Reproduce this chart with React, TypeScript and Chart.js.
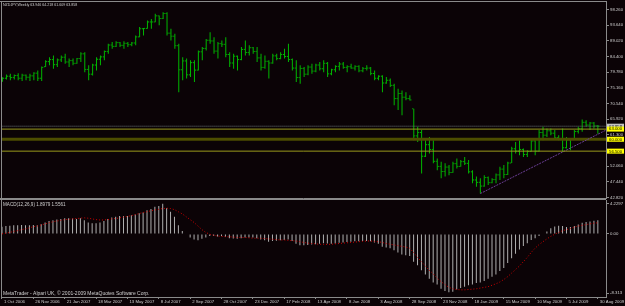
import React, { useEffect, useRef } from 'react';
import { Chart, registerables } from 'chart.js';
Chart.register(...registerables);

const BG = '#0b0306';
const AXIS = '#8a8a8a';
const TEXT = '#cfcfcf';
const BAR_GREEN = '#00b800';
const FONT = '"Liberation Sans", Arial, sans-serif';

const symbolTitle = 'NZDJPY,Weekly 63.946 64.218 61.609 63.858';
const macdTitle = 'MACD(12,26,9) 1.8979 1.5561';
const footerText = 'MetaTrader - Alpari UK, \u00a9 2001-2009 MetaQuotes Software Corp.';

const dateLabels = ['1 Oct 2006', '26 Nov 2006', '21 Jan 2007', '18 Mar 2007', '13 May 2007', '8 Jul 2007', '2 Sep 2007', '28 Oct 2007', '23 Dec 2007', '17 Feb 2008', '13 Apr 2008', '8 Jun 2008', '3 Aug 2008', '28 Sep 2008', '23 Nov 2008', '18 Jan 2009', '15 Mar 2009', '10 May 2009', '5 Jul 2009', '30 Aug 2009'];
const DATE_STEP = 8;

const opens = [
  77.5, 78.0, 78.6, 78.2, 78.8, 78.0, 78.9, 78.3, 78.7, 79.5,
  78.0, 81.4, 82.9, 83.5, 82.0, 83.4, 84.2, 82.8, 83.2, 82.4,
  83.8, 85.2, 80.6, 79.2, 81.9, 83.6, 84.3, 85.9, 87.8, 87.4,
  88.5, 87.7, 88.3, 87.9, 88.4, 90.2, 92.6, 92.7, 94.6, 94.6,
  96.4, 95.6, 97.1, 91.3, 90.4, 87.6, 80.5, 83.1, 79.0, 82.6,
  80.4, 85.8, 86.8, 89.2, 89.0, 86.0, 88.2, 88.0, 85.0, 82.5,
  84.5, 83.5, 86.5, 85.6, 87.0, 85.9, 84.0, 81.2, 83.0, 82.5,
  84.6, 83.8, 85.0, 84.4, 83.5, 81.0, 78.2, 80.9, 79.2, 81.3,
  80.1, 81.9, 80.8, 82.4, 79.3, 80.5, 81.5, 82.2, 81.2, 81.4,
  81.0, 81.5, 80.2, 80.9, 81.0, 79.4, 78.0, 78.6, 76.6, 77.4,
  75.9, 72.0, 73.5, 72.4, 72.0, 69.0, 61.0, 62.0, 55.0, 58.4,
  57.0, 53.5, 52.0, 50.5, 51.8, 50.2, 52.8, 52.0, 53.4, 52.9,
  50.4, 48.0, 47.3, 46.2, 48.7, 47.2, 48.1, 49.5, 51.2, 49.6,
  53.0, 57.2, 56.5, 57.0, 55.5, 56.4, 59.5, 56.5, 62.0, 61.2,
  62.5, 61.8, 60.5, 60.2, 57.5, 59.8, 59.9, 62.3, 63.1, 65.0,
  64.2, 64.8, 63.946,
];
const highs = [
  78.3, 79.1, 79.3, 79.1, 79.5, 79.3, 79.1, 79.3, 79.8, 80.3,
  81.5, 83.3, 84.2, 84.7, 83.8, 84.7, 85.2, 83.8, 83.8, 84.0,
  85.7, 85.7, 81.8, 82.3, 84.2, 84.7, 86.2, 88.2, 88.7, 88.9,
  88.7, 88.9, 88.7, 88.7, 90.6, 93.1, 92.8, 95.0, 95.5, 97.0,
  96.5, 97.5, 97.5, 92.6, 91.1, 88.2, 84.2, 83.8, 83.3, 83.3,
  86.2, 87.2, 89.6, 91.6, 90.1, 88.7, 89.1, 90.1, 85.7, 85.2,
  84.7, 87.2, 89.1, 87.7, 87.2, 87.2, 85.2, 84.7, 83.3, 85.2,
  85.2, 85.7, 86.7, 88.2, 83.8, 83.3, 81.8, 81.3, 81.8, 82.3,
  82.3, 82.8, 83.3, 82.8, 80.8, 81.8, 82.8, 82.8, 81.8, 82.3,
  81.8, 81.8, 81.3, 81.8, 81.3, 80.3, 78.9, 78.9, 78.4, 77.9,
  76.4, 74.9, 74.4, 73.9, 73.0, 69.0, 63.7, 62.7, 59.7, 60.7,
  59.7, 54.3, 53.4, 52.9, 52.4, 53.4, 54.3, 53.9, 54.8, 53.9,
  50.9, 49.0, 48.5, 49.4, 49.0, 48.5, 49.9, 51.9, 52.4, 53.4,
  57.8, 59.2, 59.7, 57.3, 56.8, 60.2, 59.7, 62.7, 63.7, 63.2,
  63.2, 62.7, 61.2, 63.2, 60.7, 60.2, 62.7, 63.7, 65.8, 65.6,
  65.1, 65.1, 64.218,
];
const lows = [
  77.0, 77.6, 77.4, 77.6, 77.4, 77.2, 77.4, 77.2, 77.4, 77.2,
  77.2, 81.3, 81.8, 80.8, 81.3, 82.8, 82.3, 81.3, 81.8, 82.3,
  82.8, 79.8, 77.4, 78.8, 80.3, 81.8, 83.3, 85.2, 86.7, 87.2,
  87.2, 86.7, 87.2, 87.4, 87.7, 90.1, 90.6, 92.6, 92.6, 94.5,
  93.6, 95.5, 90.6, 89.1, 86.7, 73.9, 77.4, 77.9, 78.4, 76.9,
  80.3, 83.3, 86.2, 88.2, 85.2, 83.8, 87.2, 84.2, 81.3, 80.8,
  80.3, 83.3, 84.7, 84.7, 85.2, 82.8, 80.3, 80.8, 77.9, 82.3,
  83.3, 83.6, 83.8, 82.8, 80.3, 76.9, 76.4, 78.4, 78.9, 79.3,
  79.8, 80.3, 79.8, 78.4, 78.9, 79.8, 80.3, 80.8, 79.8, 80.8,
  80.3, 79.8, 79.8, 80.3, 78.9, 77.4, 77.4, 73.9, 76.4, 75.4,
  70.0, 68.6, 67.1, 71.5, 71.4, 59.7, 59.2, 49.9, 54.8, 55.8,
  52.9, 50.9, 48.5, 49.0, 49.4, 50.1, 51.4, 51.9, 52.4, 49.9,
  47.0, 46.0, 44.0, 46.0, 46.5, 47.0, 47.0, 48.0, 48.5, 49.5,
  53.0, 55.8, 55.3, 54.8, 54.8, 56.3, 55.3, 56.4, 59.7, 60.7,
  61.2, 60.2, 59.7, 56.3, 57.3, 56.8, 59.8, 61.7, 62.2, 63.7,
  62.7, 63.2, 61.609,
];
const closes = [
  78.0, 78.6, 78.2, 78.8, 78.0, 78.9, 78.3, 78.7, 79.5, 78.0,
  81.2, 82.9, 83.5, 82.0, 83.4, 84.2, 82.8, 83.2, 82.4, 83.8,
  85.2, 80.6, 79.2, 81.9, 83.6, 84.3, 85.9, 87.8, 87.4, 88.5,
  87.7, 88.3, 87.9, 88.4, 90.2, 92.6, 92.7, 94.6, 94.6, 96.4,
  95.6, 97.1, 91.3, 90.4, 87.6, 80.5, 83.1, 79.0, 82.6, 80.4,
  85.8, 86.8, 89.2, 89.0, 86.0, 88.2, 88.0, 85.0, 82.5, 84.5,
  83.5, 86.5, 85.6, 87.0, 85.9, 84.0, 81.2, 83.0, 82.5, 84.6,
  83.8, 85.0, 84.4, 83.5, 81.0, 78.2, 80.9, 79.2, 81.3, 80.1,
  81.9, 80.8, 82.4, 79.3, 80.5, 81.5, 82.2, 81.2, 81.4, 81.0,
  81.5, 80.2, 80.9, 81.0, 79.4, 78.0, 78.6, 76.6, 77.4, 75.9,
  72.0, 73.5, 72.4, 72.0, 71.6, 61.0, 62.0, 55.0, 58.4, 57.0,
  53.5, 52.0, 50.5, 51.8, 50.2, 52.8, 52.0, 53.4, 52.9, 50.4,
  48.0, 47.3, 46.2, 48.7, 47.2, 48.1, 49.5, 51.2, 49.6, 53.0,
  57.2, 56.5, 57.0, 55.5, 56.4, 59.5, 56.5, 62.0, 61.2, 62.5,
  61.8, 60.5, 60.2, 57.5, 59.8, 59.9, 62.3, 63.1, 65.0, 64.2,
  64.8, 63.946, 63.858,
];

const macdHist = [
  1.0, 1.1, 1.15, 1.2, 1.2, 1.25, 1.2, 1.2, 1.25, 1.2, 1.35,
  1.6, 1.8, 1.9, 2.0, 2.1, 2.2, 2.2, 2.15, 2.1, 2.2,
  1.9, 1.6, 1.5, 1.5, 1.6, 1.8, 2.1, 2.3, 2.4, 2.5,
  2.5, 2.5, 2.6, 2.7, 2.9, 3.0, 3.3, 3.5, 3.8, 3.9,
  4.23, 3.6, 3.1, 2.4, 1.2, 0.4, 0.05, -0.5, -0.8, -0.9,
  -0.7, -0.5, -0.3, -0.3, -0.35, -0.3, -0.4, -0.6, -0.65, -0.7,
  -0.6, -0.5, -0.5, -0.5, -0.6, -0.8, -0.9, -1.1, -1.0, -0.95,
  -0.9, -0.85, -0.8, -1.0, -1.4, -1.6, -1.6, -1.55, -1.5, -1.45,
  -1.4, -1.3, -1.35, -1.4, -1.35, -1.25, -1.2, -1.15, -1.1, -1.05,
  -1.05, -1.0, -1.0, -1.05, -1.2, -1.4, -1.8, -1.9, -2.0, -2.3,
  -2.6, -2.9, -3.0, -3.1, -3.9, -4.4, -5.1, -5.7, -6.3, -6.8,
  -7.1, -7.7, -8.0, -8.2, -8.1, -7.8, -7.6, -7.4, -7.2, -7.1,
  -6.9, -6.8, -6.6, -6.3, -6.0, -5.7, -5.2, -4.8, -4.1, -3.4,
  -2.8, -2.2, -1.7, -1.3, -0.85, -0.6, -0.3, -0.1, 0.35, 0.8,
  1.05, 1.15, 1.1, 0.95, 0.95, 1.1, 1.3, 1.55, 1.65, 1.75,
  1.85, 1.8979,
];
const macdSignal = [
  0.0, 0.1, 0.2, 0.35, 0.45, 0.6, 0.7, 0.85, 1.0, 1.1, 1.25,
  1.4, 1.55, 1.7, 1.8, 1.9, 2.0, 2.05, 2.1, 2.15, 2.2,
  2.25, 2.2, 2.1, 2.0, 1.95, 1.95, 2.0, 2.1, 2.15, 2.25,
  2.35, 2.45, 2.55, 2.7, 2.85, 3.0, 3.1, 3.25, 3.35, 3.45,
  3.55, 3.6, 3.55, 3.4, 3.1, 2.8, 2.4, 2.0, 1.6, 1.1,
  0.6, 0.2, -0.05, -0.2, -0.3, -0.35, -0.4, -0.4, -0.45, -0.5,
  -0.5, -0.5, -0.55, -0.6, -0.6, -0.62, -0.65, -0.7, -0.75, -0.8,
  -0.85, -0.85, -0.9, -0.95, -1.0, -1.1, -1.2, -1.3, -1.35, -1.4,
  -1.45, -1.48, -1.48, -1.45, -1.4, -1.35, -1.3, -1.25, -1.2, -1.15,
  -1.1, -1.05, -1.0, -1.0, -1.05, -1.1, -1.2, -1.35, -1.45, -1.55,
  -1.65, -1.75, -1.85, -2.0, -2.6, -3.3, -3.9, -4.5, -5.1, -5.6,
  -6.2, -6.7, -7.1, -7.5, -7.7, -7.8, -7.85, -7.85, -7.8, -7.75,
  -7.7, -7.6, -7.5, -7.4, -7.2, -7.0, -6.75, -6.4, -6.0, -5.5,
  -5.0, -4.5, -3.9, -3.3, -2.6, -2.0, -1.5, -1.1, -0.7, -0.35,
  -0.05, 0.2, 0.45, 0.6, 0.75, 0.95, 1.1, 1.2, 1.3, 1.4,
  1.5, 1.5561,
];

const priceTicks = [98.26, 93.64, 89.02, 84.4, 79.78, 75.16, 70.54, 65.92, 61.3, 56.68, 52.06, 47.44, 42.82];
const macdTicks = [4.2297, 0, -8.313];
const macdTickLabels = ['4.2297', '0.00', '-8.313'];

const currentPrice = 63.858;
const hLevels = [63.0, 60.0, 56.5];
const hLevelLabels = ['63.000', '60.000', '56.500'];
const trendStart = { x: 122, y: 44.0 };
const trendEnd = { x: 154.08, y: 62.7 };

const X_MIN = -0.25;
const X_MAX = 154.08;
const PRICE_MIN = 42.68;
const PRICE_MAX = 100.62;
const MACD_MIN = -8.85;
const MACD_MAX = 4.75;
const TICK_OFF = 0.26;

const zeroPad = (s: any) => {
  s.paddingTop = 0; s.paddingBottom = 0; s.paddingLeft = 0; s.paddingRight = 0;
};

const rightAxis = (min: number, max: number, ticks: number[], labelFor: (v: number, i: number) => string) => ({
  type: 'linear',
  position: 'right',
  min,
  max,
  afterBuildTicks: (s: any) => { s.ticks = ticks.map((v) => ({ value: v })); },
  afterFit: (s: any) => { s.width = 19; zeroPad(s); },
  ticks: {
    autoSkip: false,
    padding: 1,
    color: TEXT,
    font: { size: 4.3, family: FONT },
    callback: (v: any, i: number) => labelFor(v, i),
  },
  grid: { drawOnChartArea: false, drawTicks: true, tickLength: 3, color: AXIS, offset: false },
  border: { display: true, color: AXIS, width: 1 },
});

const mainDecor = {
  id: 'mainDecor',
  beforeDraw(chart: any) {
    const { ctx, width, height } = chart;
    ctx.save();
    ctx.fillStyle = BG;
    ctx.fillRect(0, 0, width, height);
    ctx.restore();
  },
  afterDraw(chart: any) {
    const { ctx, chartArea: a, scales } = chart;
    ctx.save();
    ctx.strokeStyle = AXIS;
    ctx.lineWidth = 1;
    ctx.beginPath();
    ctx.moveTo(0, 1.5); ctx.lineTo(a.right, 1.5);
    ctx.moveTo(1.5, 1); ctx.lineTo(1.5, a.bottom);
    ctx.moveTo(0, a.bottom + 0.5); ctx.lineTo(a.right + 1, a.bottom + 0.5);
    ctx.stroke();

    ctx.fillStyle = TEXT;
    ctx.font = `3.6px ${FONT}`;
    ctx.textBaseline = 'top';
    ctx.textAlign = 'left';
    ctx.fillText(symbolTitle, 3, 3);

    const y = scales.y;
    const drawBox = (v: number, label: string, fill: string) => {
      const py = y.getPixelForValue(v);
      ctx.fillStyle = fill;
      ctx.fillRect(a.right + 1, py - 2.5, 17, 5);
      ctx.fillStyle = '#000000';
      ctx.font = `4.3px ${FONT}`;
      ctx.textBaseline = 'middle';
      ctx.fillText(label, a.right + 3, py + 0.2);
    };
    drawBox(currentPrice, currentPrice.toFixed(3), '#c4c4c4');
    hLevels.forEach((v, k) => drawBox(v, hLevelLabels[k], '#ffff00'));
    ctx.restore();
  },
};

const macdDecor = {
  id: 'macdDecor',
  beforeDraw(chart: any) {
    const { ctx, width, height } = chart;
    ctx.save();
    ctx.fillStyle = BG;
    ctx.fillRect(0, 0, width, height);
    ctx.restore();
  },
  afterDraw(chart: any) {
    const { ctx, chartArea: a } = chart;
    ctx.save();
    ctx.strokeStyle = AXIS;
    ctx.lineWidth = 1;
    ctx.beginPath();
    ctx.moveTo(0, 0.5); ctx.lineTo(a.right, 0.5);
    ctx.moveTo(1.5, 0); ctx.lineTo(1.5, a.bottom);
    ctx.stroke();
    ctx.fillStyle = TEXT;
    ctx.textBaseline = 'top';
    ctx.textAlign = 'left';
    ctx.font = `4.6px ${FONT}`;
    ctx.fillText(macdTitle, 3, 3.8);
    ctx.font = `5px ${FONT}`;
    ctx.fillText(footerText, 3, 92.2);
    ctx.restore();
  },
};

export default function App() {
  const refA = useRef<HTMLCanvasElement>(null);
  const refB = useRef<HTMLCanvasElement>(null);

  useEffect(() => {
    const idx = opens.map((_, i) => i);
    const lineDs = (data: any[], color: string, width: number, dash: number[], order: number) => ({
      type: 'line',
      data,
      borderColor: color,
      borderWidth: width,
      borderDash: dash,
      pointRadius: 0,
      pointHoverRadius: 0,
      tension: 0,
      order,
    });
    const tickDs = (vals: number[], off: number) => ({
      type: 'scatter',
      data: vals.map((v, i) => ({ x: i + off, y: v })),
      pointStyle: 'line',
      pointRadius: 0.55,
      pointHoverRadius: 0.55,
      pointBorderColor: BAR_GREEN,
      pointBackgroundColor: BAR_GREEN,
      pointBorderWidth: 1,
      borderColor: BAR_GREEN,
      order: 5,
    });

    const main = new Chart(refA.current as HTMLCanvasElement, {
      type: 'bar',
      data: {
        datasets: [
          lineDs([{ x: X_MIN, y: currentPrice }, { x: X_MAX, y: currentPrice }], '#6e7878', 1, [1, 1], 0),
          lineDs([{ x: X_MIN, y: hLevels[0] }, { x: X_MAX, y: hLevels[0] }], '#9a9a1c', 1, [], 1),
          lineDs([{ x: X_MIN, y: hLevels[1] }, { x: X_MAX, y: hLevels[1] }], '#4d4d00', 3, [], 2),
          lineDs([{ x: X_MIN, y: hLevels[2] }, { x: X_MAX, y: hLevels[2] }], '#9a9a1c', 1, [], 1),
          lineDs([trendStart, trendEnd], '#6b3f96', 1, [2, 1], 1),
          tickDs(opens, -TICK_OFF),
          tickDs(closes, TICK_OFF),
          {
            type: 'bar',
            data: idx.map((i) => ({ x: i, y: [lows[i], highs[i]] })),
            backgroundColor: BAR_GREEN,
            borderWidth: 0,
            barThickness: 1,
            inflateAmount: 0,
            order: 6,
          },
        ] as any,
      },
      options: {
        responsive: false,
        animation: false,
        events: [],
        layout: { padding: { left: 1, top: 1, bottom: 2, right: 0 } },
        plugins: { legend: { display: false }, tooltip: { enabled: false }, title: { display: false } },
        scales: {
          x: { type: 'linear', min: X_MIN, max: X_MAX, display: false, offset: false, grid: { offset: false } },
          y: rightAxis(PRICE_MIN, PRICE_MAX, priceTicks, (v) => Number(v).toFixed(3)),
        } as any,
      },
      plugins: [mainDecor],
    } as any);

    const macd = new Chart(refB.current as HTMLCanvasElement, {
      type: 'bar',
      data: {
        datasets: [
          {
            type: 'line',
            data: macdSignal.map((v, i) => ({ x: i, y: v })),
            borderColor: '#d00000',
            borderWidth: 1,
            borderDash: [1, 2],
            pointRadius: 0,
            pointHoverRadius: 0,
            tension: 0,
            order: 0,
          },
          {
            type: 'bar',
            data: macdHist.map((v, i) => ({ x: i, y: v })),
            backgroundColor: '#b0b0b0',
            borderWidth: 0,
            barThickness: 1,
            inflateAmount: 0,
            order: 1,
          },
        ] as any,
      },
      options: {
        responsive: false,
        animation: false,
        events: [],
        layout: { padding: { left: 1, top: 1, bottom: 0, right: 0 } },
        plugins: { legend: { display: false }, tooltip: { enabled: false }, title: { display: false } },
        scales: {
          x: {
            type: 'linear',
            min: X_MIN,
            max: X_MAX,
            offset: false,
            position: 'bottom',
            afterBuildTicks: (s: any) => { s.ticks = dateLabels.map((_, k) => ({ value: k * DATE_STEP })); },
            afterFit: (s: any) => { s.height = 9; zeroPad(s); },
            ticks: {
              autoSkip: false,
              maxRotation: 0,
              minRotation: 0,
              align: 'start',
              labelOffset: 2,
              padding: 0,
              color: TEXT,
              font: { size: 4.3, family: FONT },
              callback: (_v: any, i: number) => dateLabels[i],
            },
            grid: { drawOnChartArea: false, drawTicks: true, tickLength: 2, color: AXIS, offset: false },
            border: { display: true, color: AXIS, width: 1 },
          },
          y: rightAxis(MACD_MIN, MACD_MAX, macdTicks, (_v, i) => macdTickLabels[i]),
        } as any,
      },
      plugins: [macdDecor],
    } as any);

    return () => {
      main.destroy();
      macd.destroy();
    };
  }, []);

  return (
    <div style={{ position: 'absolute', left: 0, top: 0, width: 625, height: 306, background: BG, overflow: 'hidden' }}>
      <canvas ref={refA} width={625} height={200} style={{ position: 'absolute', left: 0, top: 0, width: 625, height: 200 }} />
      <canvas ref={refB} width={625} height={107} style={{ position: 'absolute', left: 0, top: 199, width: 625, height: 107 }} />
    </div>
  );
}
